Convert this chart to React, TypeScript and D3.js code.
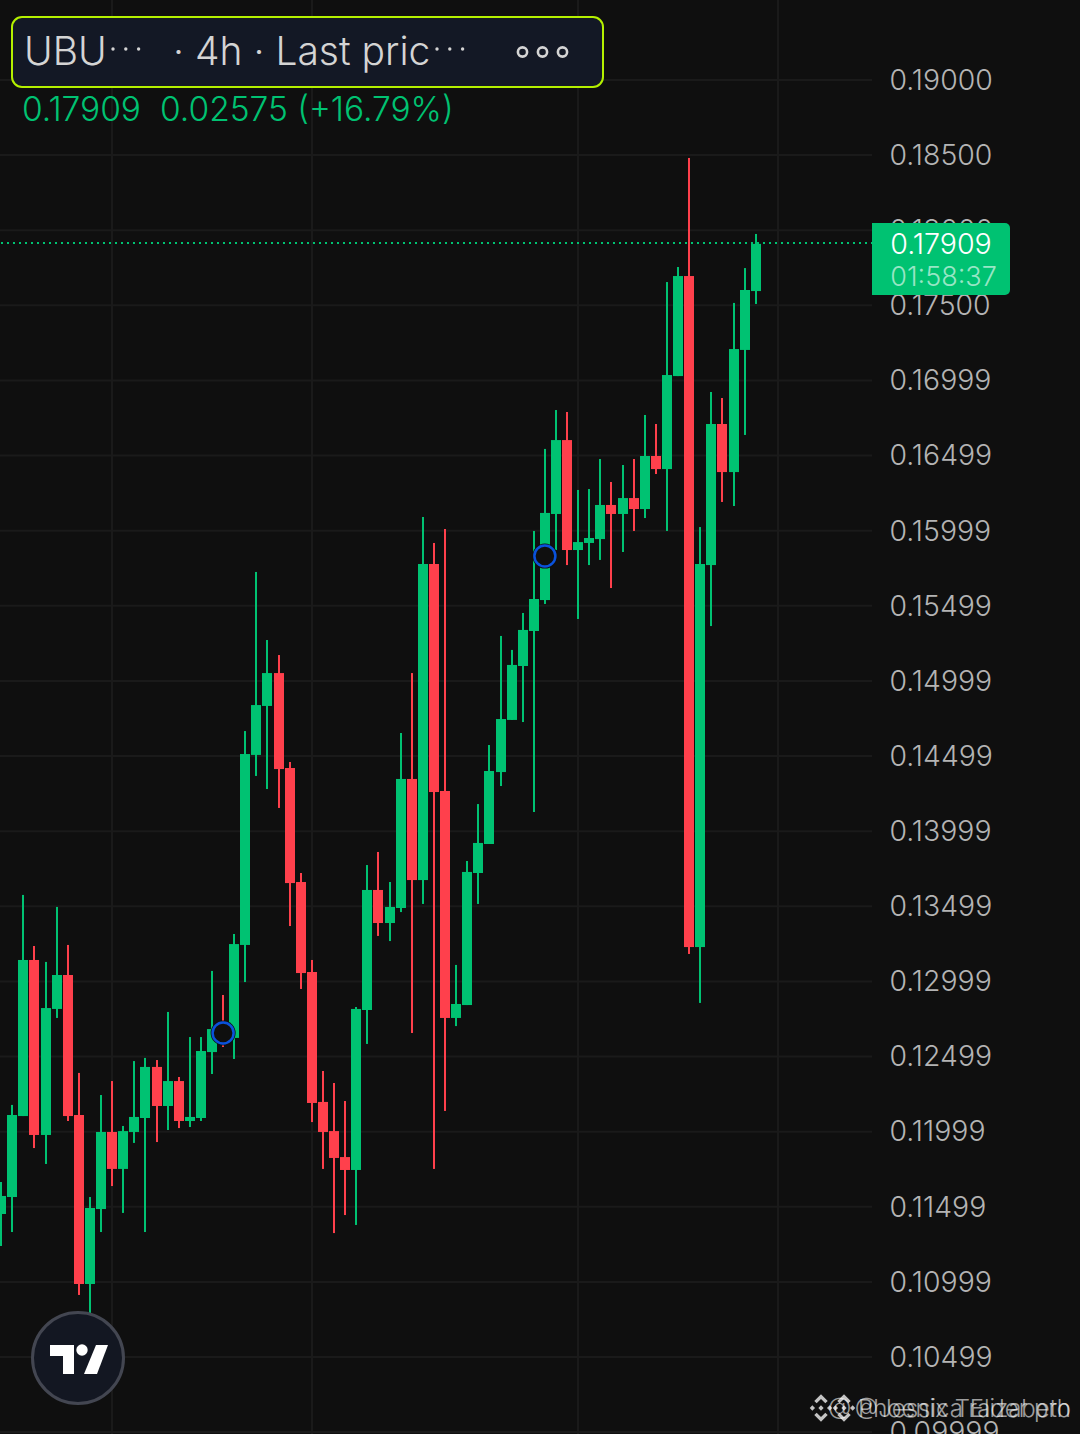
import React from "react";
import * as d3 from "d3";

const opens = [0.11451,0.11564,0.12103,0.13142,0.11977,0.12816,0.13042,0.12110,0.10985,0.11484,0.11997,0.11751,0.11997,0.12090,0.12430,0.12170,0.12336,0.12070,0.12090,0.12529,0.12702,0.12623,0.13242,0.14507,0.14833,0.15052,0.14420,0.13661,0.13062,0.12197,0.12003,0.11830,0.11744,0.12809,0.13608,0.13388,0.13488,0.14347,0.13674,0.15778,0.14267,0.12756,0.12842,0.13721,0.13914,0.14393,0.14740,0.15099,0.15332,0.15538,0.16111,0.16603,0.15871,0.15918,0.15944,0.16171,0.16111,0.16217,0.16144,0.16497,0.16410,0.17029,0.17695,0.13228,0.15771,0.16710,0.16390,0.17203,0.17595];
const closes = [0.11571,0.12110,0.13142,0.11977,0.12822,0.13042,0.12103,0.10985,0.11491,0.11997,0.11751,0.12003,0.12097,0.12430,0.12170,0.12336,0.12070,0.12097,0.12536,0.12682,0.12609,0.13248,0.14513,0.14839,0.15052,0.14413,0.13654,0.13055,0.12190,0.11997,0.11824,0.11744,0.12816,0.13608,0.13388,0.13495,0.14347,0.13674,0.15778,0.14260,0.12756,0.12849,0.13728,0.13921,0.14400,0.14746,0.15106,0.15339,0.15545,0.16118,0.16603,0.15871,0.15924,0.15951,0.16171,0.16111,0.16217,0.16144,0.16497,0.16410,0.17036,0.17695,0.13228,0.15778,0.16710,0.16390,0.17209,0.17602,0.17909];
const highs = [0.11664,0.12177,0.13575,0.13235,0.13129,0.13495,0.13242,0.12390,0.11564,0.12243,0.12336,0.12037,0.12469,0.12490,0.12476,0.12796,0.12363,0.12629,0.12629,0.13069,0.12909,0.13315,0.14666,0.15725,0.15272,0.15172,0.14460,0.13721,0.13142,0.12403,0.12323,0.12203,0.12829,0.13774,0.13861,0.13661,0.14653,0.15052,0.16091,0.15918,0.16011,0.13109,0.13801,0.14180,0.14573,0.15299,0.15206,0.15452,0.15998,0.16544,0.16803,0.16790,0.16271,0.16277,0.16477,0.16324,0.16437,0.16477,0.16770,0.16710,0.17655,0.17755,0.18481,0.16024,0.16923,0.16883,0.17516,0.17748,0.17975];
const lows = [0.11238,0.11331,0.12103,0.11890,0.11784,0.12756,0.12070,0.10912,0.10739,0.11331,0.11637,0.11458,0.11924,0.11331,0.11930,0.12010,0.12023,0.12030,0.12070,0.12383,0.12563,0.12483,0.12995,0.14367,0.14280,0.14154,0.13368,0.12949,0.12063,0.11751,0.11324,0.11444,0.11378,0.12583,0.13302,0.13268,0.13461,0.12656,0.13515,0.11751,0.12137,0.12702,0.12842,0.13515,0.13914,0.14300,0.14740,0.14726,0.14127,0.15512,0.15871,0.15771,0.15412,0.15771,0.15805,0.15618,0.15858,0.15998,0.16084,0.16377,0.15998,0.17029,0.13182,0.12856,0.15365,0.16191,0.16164,0.16637,0.17509];

const tickLabels = ["0.19000","0.18500","0.18000","0.17500","0.16999","0.16499","0.15999","0.15499","0.14999","0.14499","0.13999","0.13499","0.12999","0.12499","0.11999","0.11499","0.10999","0.10499","0.09999"];
const verticalGridIndex = [10, 28, 52, 70];
const markerIndex = [20, 49];
const markerPrice = [0.12656, 0.15831];
const lastPrice = 0.17909;
const lastPriceText = "0.17909";
const countdownText = "01:58:37";
const legendClose = "0.17909";
const legendChange = "0.02575 (+16.79%)";

const BG = "#0f0f0f", GRID = "#1a1a1a", GREEN = "#00c272", RED = "#ff404c", TXT = "#b4b4b4";
const FONT = "Inter, sans-serif";

const Binance = ({ x, y, s, o }: { x: number; y: number; s: number; o: number }) => {
  const d = (cx: number, cy: number, r: number) => `M${cx} ${cy - r}L${cx + r} ${cy}L${cx} ${cy + r}L${cx - r} ${cy}Z`;
  return (
    <g transform={`translate(${x},${y})`} fill="#fff" opacity={o}>
      <path d={d(0, 0, 2.2 * s)} />
      <path d={d(-7.2 * s, 0, 2.2 * s)} />
      <path d={d(7.2 * s, 0, 2.2 * s)} />
      <path d={`M0 ${-11.5 * s}L${5.6 * s} ${-5.9 * s}L${3.6 * s} ${-3.9 * s}L0 ${-7.5 * s}L${-3.6 * s} ${-3.9 * s}L${-5.6 * s} ${-5.9 * s}Z`} />
      <path d={`M0 ${11.5 * s}L${5.6 * s} ${5.9 * s}L${3.6 * s} ${3.9 * s}L0 ${7.5 * s}L${-3.6 * s} ${3.9 * s}L${-5.6 * s} ${5.9 * s}Z`} />
    </g>
  );
};

export default function App() {
  const W = 1080, H = 1434, plotRight = 872;
  const y = d3.scaleLinear().domain([0.19, 0.10499]).range([80, 1357]);
  const x = d3.scaleLinear().domain([0, 68]).range([1.2, 755.7]);
  const yTick = d3.scaleLinear().domain([0, tickLabels.length - 2]).range([80, 1357]);

  return (
    <svg width={W} height={H} viewBox={`0 0 ${W} ${H}`} style={{ position: "fixed", left: 0, top: 0, display: "block" }}>
      <rect width={W} height={H} fill={BG} />
      {tickLabels.map((_, i) => (
        <line key={i} x1={0} x2={plotRight} y1={yTick(i)} y2={yTick(i)} stroke={GRID} strokeWidth={2} />
      ))}
      {verticalGridIndex.map((v) => (
        <line key={v} x1={Math.round(x(v))} x2={Math.round(x(v))} y1={0} y2={H} stroke={GRID} strokeWidth={2} />
      ))}

      {opens.map((o, i) => {
        const c = closes[i];
        const col = c >= o ? GREEN : RED;
        const top = y(Math.max(o, c));
        const bot = y(Math.min(o, c));
        const cx = Math.round(x(i));
        return (
          <g key={i} fill={col}>
            <rect x={cx - 1} y={y(highs[i])} width={2} height={y(lows[i]) - y(highs[i])} />
            <rect x={cx - 5} y={top} width={10} height={Math.max(bot - top, 1)} />
          </g>
        );
      })}

      {markerIndex.map((m, i) => (
        <g key={m}>
          <circle cx={x(m)} cy={y(markerPrice[i])} r={12.5} fill={BG} />
          <circle cx={x(m)} cy={y(markerPrice[i])} r={10.5} fill={BG} stroke="#0a52dc" strokeWidth={2.5} />
        </g>
      ))}

      <line x1={1} x2={plotRight} y1={y(lastPrice) - 1} y2={y(lastPrice) - 1} stroke={GREEN} strokeWidth={2} strokeDasharray="2 4" />

      {tickLabels.map((t, i) => (
        <text key={t} x={889.5} y={yTick(i) + 9.8} fontFamily={FONT} fontWeight={300} fontSize={28.4} fill={TXT}>{t}</text>
      ))}

      <path d={`M872 223H1005a5 5 0 0 1 5 5V290a5 5 0 0 1 -5 5H872Z`} fill={GREEN} />
      <text x={941} y={254} textAnchor="middle" fontFamily={FONT} fontWeight={300} fontSize={28.6} fill="#fff">{lastPriceText}</text>
      <text x={943.5} y={286} textAnchor="middle" fontFamily={FONT} fontWeight={300} fontSize={27} fill="#fff" fillOpacity={0.6}>{countdownText}</text>

      <rect x={12} y={17} width={591} height={70} rx={10} fill="#131825" stroke="#b4f000" strokeWidth={2} />
      <g fontFamily={FONT} fontWeight={300} fontSize={39} fill="#d4d4d4">
        <text x={24} y={65}>UBU</text>
        <text x={173} y={65}>· 4h · Last pric</text>
      </g>
      <g fill="#d4d4d4">
        {[0, 1, 2].flatMap((k) => [
          <circle key={`a${k}`} cx={113 + k * 12.8} cy={49} r={1.7} />,
          <circle key={`b${k}`} cx={437 + k * 12.8} cy={49} r={1.7} />,
        ])}
      </g>
      {[0, 1, 2].map((k) => (
        <circle key={k} cx={522.5 + k * 20} cy={52} r={4.6} fill="none" stroke="#d4d4d4" strokeWidth={2.6} />
      ))}

      <g fontFamily={FONT} fontWeight={300} fontSize={33.5} fill={GREEN}>
        <text x={22} y={121}>{legendClose}</text>
        <text x={160} y={121}>{legendChange}</text>
      </g>

      <circle cx={78} cy={1358} r={45.5} fill="#131722" stroke="#434651" strokeWidth={3} />
      <g fill="#fff">
        <path d="M50 1345H74V1374H63V1356H50Z" />
        <circle cx={82} cy={1350} r={5.7} />
        <path d="M96 1345H108L97 1374H84Z" />
      </g>

      <Binance x={821} y={1408} s={1.2} o={0.75} />
      <Binance x={844} y={1408} s={1.2} o={0.75} />
      <g fontFamily={FONT} fontWeight={300} fontSize={24} fill="#fff" fillOpacity={0.6}>
        <text x={1071} y={1417} textAnchor="end">@ Phoenix Trader pro</text>
        <text x={1071} y={1417} textAnchor="end">@Jessica Elizabeth</text>
      </g>
    </svg>
  );
}
